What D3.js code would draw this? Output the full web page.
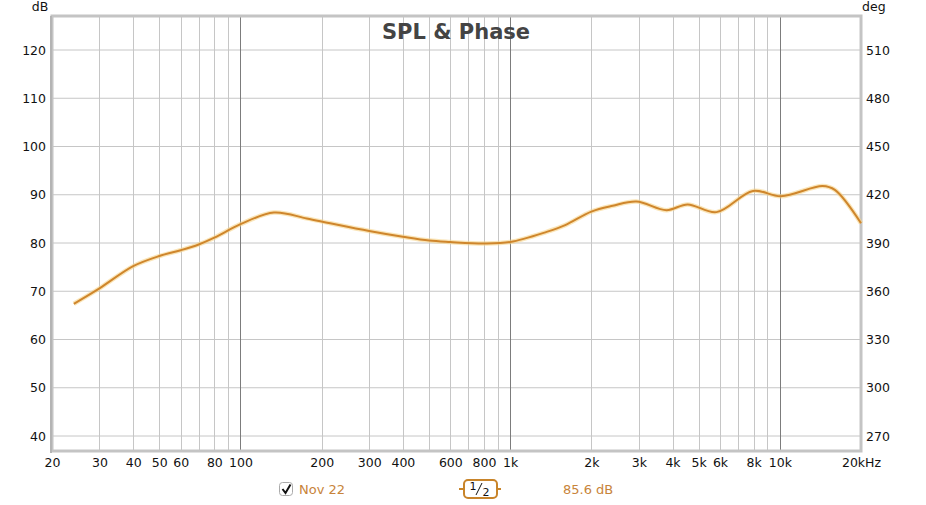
<!DOCTYPE html>
<html>
<head>
<meta charset="utf-8">
<script src="https://cdn.jsdelivr.net/npm/d3@7/dist/d3.min.js"></script>
<style>
  body { margin: 0; background: #fff; }
  svg { display: block; font-family: "DejaVu Sans", Verdana, sans-serif; }
</style>
</head>
<body>
<div id="chart"></div>
<script>
// ================================
// Data
// ================================
const freqs = [24.1, 30, 40, 50, 60, 70, 80, 100, 133, 176, 215, 300, 400, 500, 600, 800,
  1000, 1365, 1600, 2000, 2400, 2940, 3800, 4550, 5820, 7950, 10100, 14400, 16000, 20000];
const splValues = [67.4, 70.6, 75.2, 77.3, 78.5, 79.7, 81.1, 83.9, 86.3, 85.1, 84.1, 82.5, 81.3, 80.5, 80.2, 79.9,
  80.2, 82.3, 83.7, 86.5, 87.7, 88.6, 86.8, 88.0, 86.4, 90.8, 89.7, 91.8, 91.0, 84.1];

const dbTicks = [40, 50, 60, 70, 80, 90, 100, 110, 120];
const degTicks = [270, 300, 330, 360, 390, 420, 450, 480, 510];
const freqTicks = [20, 30, 40, 50, 60, 80, 100, 200, 300, 400, 600, 800,
  1000, 2000, 3000, 4000, 5000, 6000, 8000, 10000, 20000];
const freqLabels = ['20', '30', '40', '50', '60', '80', '100', '200', '300', '400', '600', '800',
  '1k', '2k', '3k', '4k', '5k', '6k', '8k', '10k', '20kHz'];
const majorFreqs = [100, 1000, 10000];

const seriesName = 'Nov 22';
const smoothing = '1/2';
const readout = '85.6 dB';

// ================================
// Layout
// ================================
const W = 926, H = 505;
const plot = { left: 52, right: 861, top: 16, bottom: 451 };

const svg = d3.select('#chart').append('svg')
  .attr('width', W)
  .attr('height', H);

const x = d3.scaleLog()
  .domain([20, 20000])
  .range([plot.left, plot.right]);

const y = d3.scaleLinear()
  .domain([40, 120])
  .range([436, 50]);

// right axis shares the same pixel span: deg = 150 + 3 * dB
const yDeg = d3.scaleLinear()
  .domain([270, 510])
  .range([436, 50]);

// grid lines at every 1-2-...-9 step of each decade
const gridFreqs = [];
[10, 100, 1000, 10000].forEach(dec => {
  for (let k = 1; k <= 9; k++) {
    const f = dec * k;
    if (f > 20 && f < 20000) gridFreqs.push(f);
  }
});

const grid = svg.append('g');

grid.selectAll('line.h')
  .data(dbTicks)
  .join('line')
  .attr('x1', plot.left)
  .attr('x2', plot.right)
  .attr('y1', d => y(d))
  .attr('y2', d => y(d))
  .attr('stroke', '#c6c6c6')
  .attr('stroke-width', 1);

grid.selectAll('line.v')
  .data(gridFreqs)
  .join('line')
  .attr('x1', d => Math.round(x(d)) + 0.5)
  .attr('x2', d => Math.round(x(d)) + 0.5)
  .attr('y1', plot.top)
  .attr('y2', plot.bottom)
  .attr('stroke', d => majorFreqs.includes(d) ? '#7c7c7c' : '#c6c6c6')
  .attr('stroke-width', 1);

// plot frame
svg.append('rect')
  .attr('x', plot.left)
  .attr('y', plot.top)
  .attr('width', plot.right - plot.left)
  .attr('height', plot.bottom - plot.top)
  .attr('fill', 'none')
  .attr('stroke', '#c4c4c4')
  .attr('stroke-width', 3);

svg.append('line')
  .attr('x1', plot.left - 1).attr('x2', plot.left - 1)
  .attr('y1', plot.top).attr('y2', plot.bottom + 2)
  .attr('stroke', '#b4b4b4')
  .attr('stroke-width', 2);

// title
svg.append('text')
  .attr('x', 456)
  .attr('y', 39)
  .attr('text-anchor', 'middle')
  .attr('fill', '#444')
  .attr('font-size', '21px')
  .attr('font-weight', 'bold')
  .text('SPL & Phase');

// ================================
// Axes
// ================================
const leftAxis = d3.axisLeft(y).tickValues(dbTicks).tickSize(0).tickPadding(5);
svg.append('g')
  .attr('transform', `translate(${plot.left - 1},0)`)
  .call(leftAxis)
  .call(g => g.select('.domain').remove())
  .selectAll('text')
  .attr('fill', '#111')
  .attr('font-size', '12.5px')
  .attr('font-family', '"DejaVu Sans", sans-serif');

const rightAxis = d3.axisRight(yDeg).tickValues(degTicks).tickSize(0).tickPadding(5);
svg.append('g')
  .attr('transform', `translate(${plot.right},0)`)
  .call(rightAxis)
  .call(g => g.select('.domain').remove())
  .selectAll('text')
  .attr('fill', '#111')
  .attr('font-size', '12.5px')
  .attr('font-family', '"DejaVu Sans", sans-serif');

const bottomAxis = d3.axisBottom(x)
  .tickValues(freqTicks)
  .tickFormat((d, i) => freqLabels[i])
  .tickSize(0)
  .tickPadding(7);
svg.append('g')
  .attr('transform', `translate(0,${plot.bottom})`)
  .call(bottomAxis)
  .call(g => g.select('.domain').remove())
  .selectAll('text')
  .attr('fill', '#111')
  .attr('font-size', '12.5px')
  .attr('font-family', '"DejaVu Sans", sans-serif');

svg.append('text')
  .attr('x', 40).attr('y', 11)
  .attr('text-anchor', 'middle')
  .attr('fill', '#111')
  .attr('font-size', '12.5px')
  .text('dB');

svg.append('text')
  .attr('x', 862).attr('y', 11)
  .attr('fill', '#111')
  .attr('font-size', '12.5px')
  .text('deg');

// ================================
// SPL curve
// ================================
const points = freqs.map((f, i) => ({ f, v: splValues[i] }));
const line = d3.line()
  .x(d => x(d.f))
  .y(d => y(d.v))
  .curve(d3.curveCatmullRom.alpha(0.5));

svg.append('path')
  .datum(points)
  .attr('fill', 'none')
  .attr('stroke', '#f6d488')
  .attr('stroke-opacity', 0.6)
  .attr('stroke-width', 4.5)
  .attr('d', line);

svg.append('path')
  .datum(points)
  .attr('fill', 'none')
  .attr('stroke', '#cf862c')
  .attr('stroke-width', 2)
  .attr('d', line);

// ================================
// Legend row
// ================================
const legend = svg.append('g');

legend.append('rect')
  .attr('x', 279.5).attr('y', 482.5)
  .attr('width', 13).attr('height', 13)
  .attr('rx', 3)
  .attr('fill', '#fff')
  .attr('stroke', '#aaa');

legend.append('path')
  .attr('d', 'M282.5,489 L285.5,493 L290.5,484.5')
  .attr('fill', 'none')
  .attr('stroke', '#111')
  .attr('stroke-width', 2);

legend.append('text')
  .attr('x', 299).attr('y', 494)
  .attr('fill', '#c8843a')
  .attr('font-size', '13px')
  .text(seriesName);

// smoothing badge
const [num, den] = smoothing.split('/');
legend.append('line')
  .attr('x1', 459).attr('x2', 501)
  .attr('y1', 489).attr('y2', 489)
  .attr('stroke', '#c8842a')
  .attr('stroke-width', 2);

legend.append('rect')
  .attr('x', 464).attr('y', 480)
  .attr('width', 33).attr('height', 18)
  .attr('rx', 4)
  .attr('fill', '#fff')
  .attr('stroke', '#c8842a')
  .attr('stroke-width', 2);

legend.append('text')
  .attr('x', 473).attr('y', 490)
  .attr('text-anchor', 'middle')
  .attr('fill', '#111')
  .attr('font-size', '11px')
  .text(num);

legend.append('line')
  .attr('x1', 476).attr('x2', 482)
  .attr('y1', 495).attr('y2', 483)
  .attr('stroke', '#111')
  .attr('stroke-width', 1);

legend.append('text')
  .attr('x', 486).attr('y', 496)
  .attr('text-anchor', 'middle')
  .attr('fill', '#111')
  .attr('font-size', '11px')
  .text(den);

legend.append('text')
  .attr('x', 563).attr('y', 494)
  .attr('fill', '#c8843a')
  .attr('font-size', '13px')
  .text(readout);
</script>
</body>
</html>
